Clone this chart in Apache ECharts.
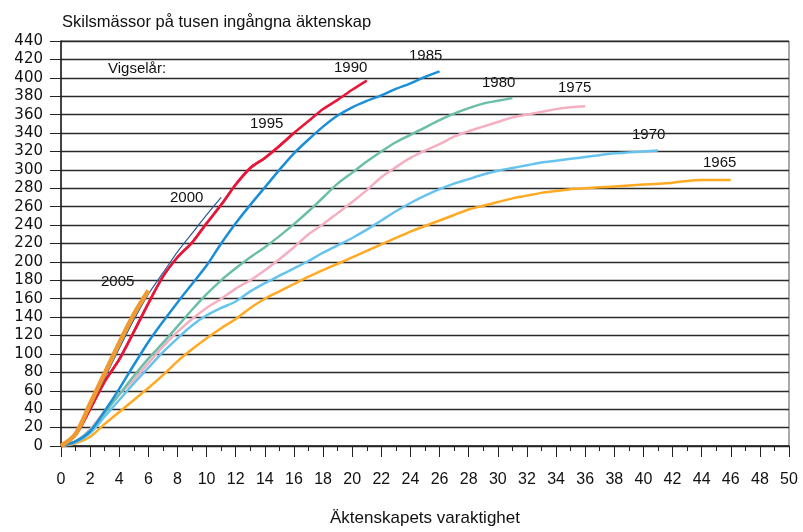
<!DOCTYPE html>
<html>
<head>
<meta charset="utf-8">
<script src="https://cdn.jsdelivr.net/npm/echarts@6/dist/echarts.min.js"></script>
<style>
  html, body { margin: 0; padding: 0; background: #fff; }
  #chart { width: 803px; height: 532px; }
</style>
</head>
<body>
<div id="chart"></div>
<script>
// skilsmässor per tusen äktenskap, efter vigselår (värden för varaktighet 0, 1, 2, ...)
const y1965 = [0, 3, 10, 24, 37, 50, 63, 77, 92, 105, 117, 128, 138, 150, 160, 168, 176, 184, 191, 198, 205, 212, 219, 226, 233, 239, 245, 251, 257, 261, 265, 269, 272, 275, 277, 279, 280, 281, 282, 283, 284, 285, 286, 288, 289, 289, 289];
const y1970 = [0, 4, 14, 32, 50, 68, 85, 102, 117, 131, 142, 150, 157, 168, 177, 185, 193, 201, 210, 218, 226, 235, 245, 255, 264, 272, 279, 285, 290, 295, 299, 302, 305, 308, 310, 312, 314, 316, 318, 319, 320, 321];
const y1975 = [0, 5, 18, 38, 56, 72, 90, 108, 124, 138, 150, 160, 171, 180, 191, 203, 216, 230, 241, 253, 265, 278, 292, 303, 313, 321, 328, 336, 342, 347, 352, 357, 360, 363, 366, 368, 369];
const y1980 = [0, 5, 17, 36, 56, 76, 95, 112, 130, 148, 165, 180, 193, 205, 216, 228, 241, 255, 270, 285, 297, 309, 320, 330, 338, 346, 354, 361, 367, 372, 375, 378];
const y1985 = [0, 5, 16, 38, 62, 88, 113, 135, 156, 176, 196, 220, 242, 262, 281, 300, 318, 333, 347, 359, 368, 375, 381, 388, 394, 401, 407];
const y1990 = [0, 12, 40, 70, 94, 124, 155, 184, 205, 221, 242, 262, 284, 302, 313, 326, 340, 353, 366, 376, 387, 397];
const y1995 = [0, 12, 40, 70, 94, 124, 155, 184, 205, 221, 242, 262, 284, 302, 313, 326, 340];
const y2000 = [0, 11, 42, 74, 106, 137, 165, 188, 211, 231, 251, 270];
const y2005 = [0, 13, 46, 79, 112, 143, 169];

const xTicks = [0, 2, 4, 6, 8, 10, 12, 14, 16, 18, 20, 22, 24, 26, 28, 30, 32, 34, 36, 38, 40, 42, 44, 46, 48, 50];

const toPairs = arr => arr.map((v, i) => [i, v]);

const chart = echarts.init(document.getElementById('chart'));

function line(name, values, color, width) {
  return {
    name: name,
    type: 'line',
    data: toPairs(values),
    showSymbol: false,
    smooth: 0.3,
    lineStyle: { color: color, width: width },
    itemStyle: { color: color },
    animation: false,
    silent: true
  };
}

const font = 'Liberation Sans, Arial, sans-serif';

// årtalsetiketter vid kurvorna
function txt(text, x, y) {
  return {
    type: 'text', left: x, top: y,
    style: { text: text, font: '15px ' + font, fill: '#111' }
  };
}

chart.setOption({
  backgroundColor: '#fff',
  grid: { left: 61, right: 14, top: 41, bottom: 81, show: true, borderColor: '#555', borderWidth: 1 },
  xAxis: {
    type: 'value', min: 0, max: 50, interval: 2,
    name: 'Äktenskapets varaktighet', nameLocation: 'middle', nameGap: 64,
    nameTextStyle: { fontFamily: font, fontSize: 17, color: '#111' },
    axisLine: { lineStyle: { color: '#222', width: 1.5 } },
    axisTick: { length: 11, lineStyle: { color: '#222' } },
    minorTick: { show: true, splitNumber: 2, length: 5, lineStyle: { color: '#222' } },
    axisLabel: {
      margin: 26, fontFamily: font, fontSize: 16, color: '#111',
      customValues: xTicks
    },
    splitLine: { show: false }
  },
  yAxis: {
    type: 'value', min: 0, max: 440, interval: 20,
    axisLine: { show: true, lineStyle: { color: '#222', width: 1.5 } },
    axisTick: { show: true, length: 11, lineStyle: { color: '#222' } },
    axisLabel: { margin: 18, fontFamily: 'DejaVu Sans, sans-serif', fontSize: 15, color: '#111' },
    splitLine: { lineStyle: { color: '#2a2a2a', width: 1.4 } }
  },
  graphic: [
    {
      type: 'text', left: 62, top: 14,
      style: { text: 'Skilsmässor på tusen ingångna äktenskap', font: '16.5px ' + font, fill: '#111' }
    },
    txt('Vigselår:', 108, 61),
    txt('1990', 334, 60),
    txt('1985', 409, 48),
    txt('1980', 482, 75),
    txt('1975', 558, 80),
    txt('1970', 632, 127),
    txt('1965', 703, 155),
    txt('1995', 250, 116),
    txt('2000', 170, 190),
    txt('2005', 101, 274)
  ],
  series: [
    line('1965', y1965, '#FFAA22', 2.5),
    line('1970', y1970, '#66C3EE', 2.5),
    line('1975', y1975, '#F5AFC0', 2.5),
    line('1980', y1980, '#6BBFA8', 2.5),
    line('1985', y1985, '#1A8FD8', 2.5),
    line('1990', y1990, '#E8173A', 2.5),
    line('1995', y1995, '#E8173A', 2.5),
    line('2000', y2000, '#2A5C9A', 1.2),
    line('2005', y2005, '#F09A30', 4.5)
  ]
});
</script>
</body>
</html>
